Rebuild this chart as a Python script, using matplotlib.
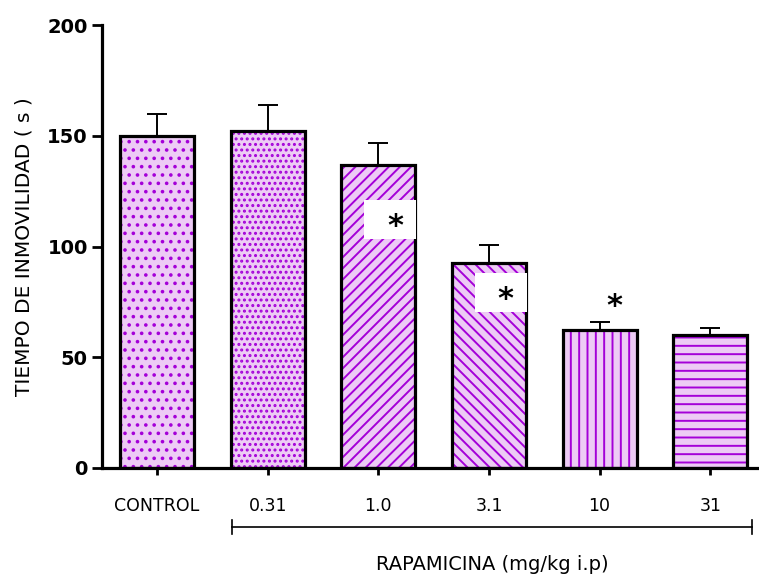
import matplotlib
matplotlib.use("Agg")
from matplotlib import pyplot as plt
from matplotlib.patches import Rectangle

# data
groups = ["CONTROL", "0.31", "1.0", "3.1", "10", "31"]
means = [150, 152, 137, 92.5, 62.3, 60]
sem = [10, 12, 10, 8, 3.5, 3]
hatches = ["..", "...", "///", "\\\\\\", "||", "--"]
# y of the asterisk for significant groups (None = not significant)
star_y = [None, None, 109, 76, 73, None]
# groups where the asterisk sits in a white box cut into the bar
star_boxed = [False, False, True, True, False, False]

fill_col = "#EDCBF5"
hatch_col = "#A400D8"

plt.rcParams["font.family"] = ["DejaVu Sans"]
plt.rcParams["hatch.linewidth"] = 1.4

fig = plt.figure(figsize=(7.59, 5.74), dpi=100)
ax = fig.add_axes([0.134, 0.185, 0.863, 0.771])

x = list(range(len(groups)))
w = 0.67

# fill + hatch first, then black outline on top
ax.bar(x, means, width=w, color=fill_col, edgecolor=hatch_col, hatch=hatches, linewidth=0, zorder=2)
ax.bar(x, means, width=w, fill=False, edgecolor="black", linewidth=2.3, zorder=3)
ax.errorbar(x, means, yerr=[[0] * len(x), sem], fmt="none", ecolor="black",
            elinewidth=1.4, capsize=7, capthick=1.4, zorder=1)

for i, sy in enumerate(star_y):
    if sy is None:
        continue
    if star_boxed[i]:
        ax.add_patch(Rectangle((i - 0.13, sy - 5.5), 0.475, 17.5, facecolor="white",
                               edgecolor="none", zorder=4))
        ax.text(i + 0.15, sy, "*", ha="center", va="center",
                fontsize=22, fontweight="bold", zorder=5)
    else:
        ax.text(i + 0.13, sy, "*", ha="center", va="center",
                fontsize=22, fontweight="bold", zorder=5)

ax.set_xlim(-0.5, 5.42)
ax.set_ylim(0, 200)
ax.set_yticks([0, 50, 100, 150, 200])
ax.set_xticks(x)
ax.set_xticklabels(groups, fontsize=12.5)
for lab in ax.get_yticklabels():
    lab.set_fontsize(14)
    lab.set_fontweight("bold")

ax.spines["top"].set_visible(False)
ax.spines["right"].set_visible(False)
ax.spines["left"].set_linewidth(2.3)
ax.spines["bottom"].set_linewidth(2.3)
ax.tick_params(axis="y", length=7, width=2, pad=3)
ax.tick_params(axis="x", length=5, width=2, pad=16)

ax.set_ylabel("TIEMPO DE INMOVILIDAD ( s )", fontsize=14.5, labelpad=10)

# bracket under the rapamycin doses
yb = -0.133
ax.plot([0.68, 5.38], [yb, yb], transform=ax.get_xaxis_transform(), color="black",
        lw=1.2, clip_on=False)
for xe in [0.68, 5.38]:
    ax.plot([xe, xe], [yb - 0.016, yb + 0.016], transform=ax.get_xaxis_transform(),
            color="black", lw=1.2, clip_on=False)
ax.text(3.03, -0.219, "RAPAMICINA (mg/kg i.p)", transform=ax.get_xaxis_transform(),
        ha="center", va="center", fontsize=14)

fig.savefig("out.png", dpi=100)
